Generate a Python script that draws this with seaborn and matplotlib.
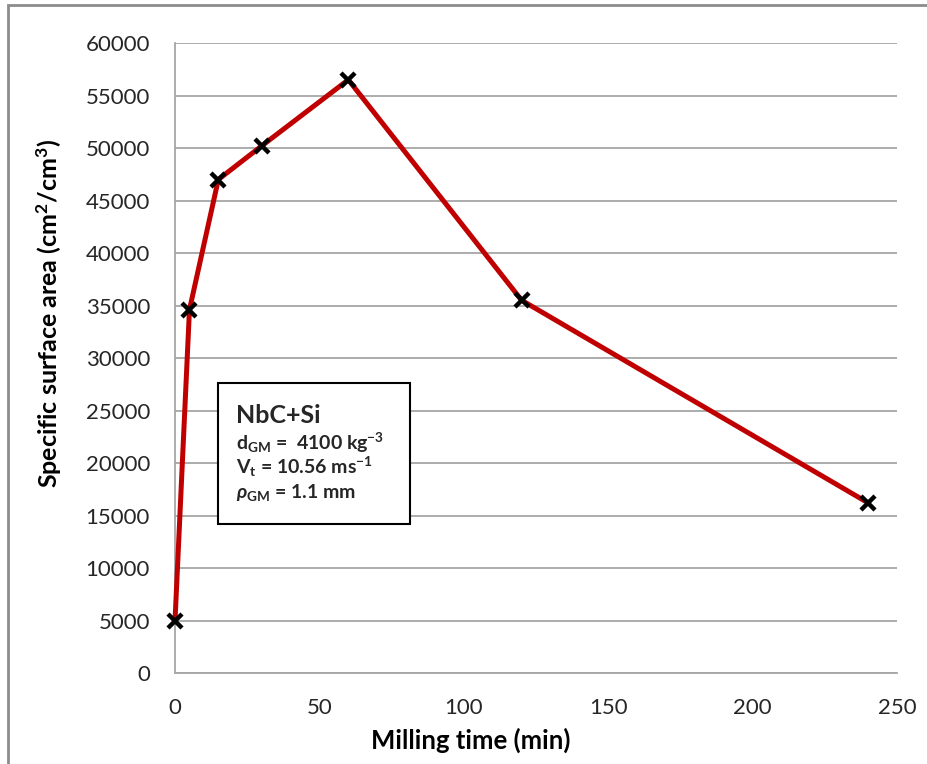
import matplotlib
matplotlib.use("Agg")
import matplotlib.pyplot as plt
import seaborn as sns
import pandas as pd
from matplotlib.patches import Rectangle

milling_time = [0, 5, 15, 30, 60, 120, 240]
surface_area = [5000, 34600, 47000, 50200, 56500, 35500, 16200]
x_ticks = [0, 50, 100, 150, 200, 250]
y_ticks = list(range(0, 60001, 5000))

sns.set_theme(style="white")
plt.rcParams["font.family"] = ["Lato", "DejaVu Sans"]
plt.rcParams["mathtext.fontset"] = "custom"
plt.rcParams["mathtext.rm"] = "Lato"
plt.rcParams["mathtext.bf"] = "Lato:bold"
plt.rcParams["mathtext.it"] = "Lato:italic:bold"
plt.rcParams["mathtext.fallback"] = "stixsans"

df = pd.DataFrame({"t": milling_time, "s": surface_area})

fig = plt.figure(figsize=(9.27, 7.64), dpi=100)
ax = fig.add_axes([0.1888, 0.1191, 0.7789, 0.8246])

grey = "#a6a6a6"
sns.lineplot(data=df, x="t", y="s", ax=ax, color="#c00000", linewidth=3.6,
             marker="x", markersize=10, markeredgewidth=3.2,
             markeredgecolor="black", markerfacecolor="black", zorder=3,
             clip_on=False)

ax.set_xlim(0, 250)
ax.set_ylim(0, 60000)
ax.set_xticks(x_ticks)
ax.set_yticks(y_ticks)
ax.set_xticklabels([str(v) for v in x_ticks])
ax.set_yticklabels([str(v) for v in y_ticks])
ax.yaxis.grid(True, color=grey, linewidth=1.3)
ax.xaxis.grid(False)
for side in ["top", "right"]:
    ax.spines[side].set_visible(False)
for side in ["left", "bottom"]:
    ax.spines[side].set_color(grey)
    ax.spines[side].set_linewidth(1.3)
ax.tick_params(axis="both", which="major", direction="out", length=7,
               width=1.3, color=grey, labelsize=16, labelcolor="#262626")
ax.tick_params(axis="y", pad=11)
ax.tick_params(axis="x", pad=11)

ax.set_xlabel("Milling time (min)", fontsize=18.5, fontweight="bold", color="black")
ax.xaxis.set_label_coords(0.41, -0.087)
ax.set_ylabel(r"Specific surface area (cm$^{\mathbf{2}}$/cm$^{\mathbf{3}}$)", fontsize=18,
              fontweight="bold", color="black")
ax.yaxis.set_label_coords(-0.154, 0.571)

# annotation box
box = Rectangle((0.0596, 0.2365), 0.266, 0.2235, transform=ax.transAxes,
                facecolor="white", edgecolor="black", linewidth=1.5, zorder=4)
ax.add_patch(box)
tx = 0.084
ax.text(tx, 0.4095, "NbC+Si", transform=ax.transAxes, fontsize=18,
        fontweight="bold", va="center", ha="left", zorder=5)
ax.text(tx, 0.365, r"d$_{\mathbf{GM}}$ =  4100 kg$^{\mathbf{-3}}$", transform=ax.transAxes,
        fontsize=14, fontweight="bold", va="center", ha="left", zorder=5)
ax.text(tx, 0.327, r"V$_{\mathbf{t}}$ = 10.56 ms$^{\mathbf{-1}}$", transform=ax.transAxes,
        fontsize=14, fontweight="bold", va="center", ha="left", zorder=5)
ax.text(tx, 0.287, r"$\rho_{\mathbf{GM}}$ = 1.1 mm", transform=ax.transAxes,
        fontsize=14, fontweight="bold", va="center", ha="left", zorder=5)

# figure border (partially visible)
fig.patches.append(Rectangle((0.0086, -0.05), 1.2, 1.0435, transform=fig.transFigure,
                             facecolor="none", edgecolor="#8c8c8c", linewidth=2.0))

fig.savefig("out.png", dpi=100)
